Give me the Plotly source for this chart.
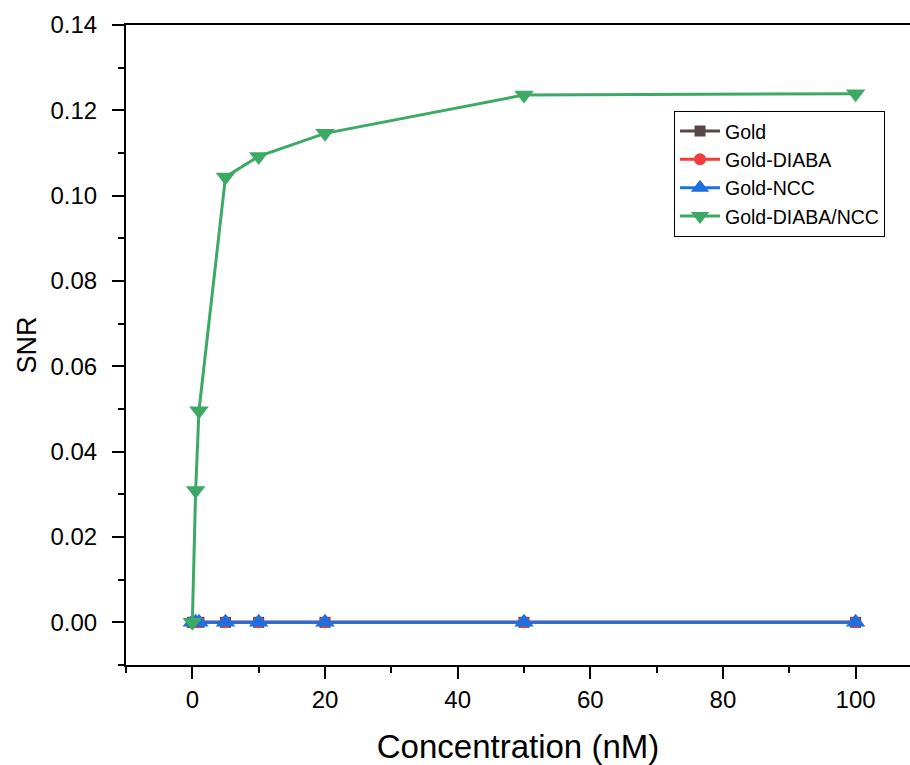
import plotly.graph_objects as go

conc = [0, 0.5, 1, 5, 10, 20, 50, 100]
snr_gold = [0, 0, 0, 0, 0, 0, 0, 0]
snr_diaba = [0, 0, 0, 0, 0, 0, 0, 0]
snr_ncc = [0, 0, 0, 0, 0, 0, 0, 0]
snr_diaba_ncc = [0, 0.0309, 0.0496, 0.1044, 0.1092, 0.1146, 0.1236, 0.1239]

series = [
    ("Gold", snr_gold, "#5a4646", "square", 11),
    ("Gold-DIABA", snr_diaba, "#f03c3c", "circle", 12),
    ("Gold-NCC", snr_ncc, "#1f6fe0", "triangle-up", 17),
    ("Gold-DIABA/NCC", snr_diaba_ncc, "#3caa64", "triangle-down", 17),
]

fig = go.Figure()
for name, vals, col, sym, sz in series:
    fig.add_trace(go.Scatter(
        x=conc, y=vals, name=name, mode="lines+markers",
        line=dict(color=col, width=3),
        marker=dict(symbol=sym, size=sz, color=col),
    ))

FONT = "Liberation Sans, Arial, sans-serif"
axis_font = dict(family=FONT, size=24, color="black")
fig.update_layout(
    width=910, height=765,
    margin=dict(l=126, r=0, t=25, b=100, autoexpand=False),
    paper_bgcolor="white", plot_bgcolor="white",
    font=dict(family=FONT, color="black"),
    showlegend=True,
    legend=dict(
        x=0.699, y=0.866, xanchor="left", yanchor="top",
        bordercolor="black", borderwidth=1, bgcolor="rgba(255,255,255,0)",
        font=dict(size=19.5, color="black"),
        tracegroupgap=0, itemwidth=40,
    ),
)
fig.update_xaxes(
    range=[-10, 108.2], tickmode="array", tickvals=[0, 20, 40, 60, 80, 100],
    ticktext=["0", "20", "40", "60", "80", "100"],
    showgrid=False, zeroline=False, showline=True, linecolor="black", linewidth=2,
    mirror=True, ticks="outside", ticklen=12, tickwidth=2, tickcolor="black",
    minor=dict(ticks="outside", ticklen=6, tickwidth=2, tickcolor="black", dtick=10, tick0=0, showgrid=False),
    tickfont=axis_font, automargin=False,
    title=dict(text="Concentration (nM)", font=dict(size=33, color="black"), standoff=26),
)
fig.update_yaxes(
    range=[-0.01, 0.14], tickmode="array",
    tickvals=[0, 0.02, 0.04, 0.06, 0.08, 0.10, 0.12, 0.14],
    ticktext=["0.00", "0.02", "0.04", "0.06", "0.08", "0.10", "0.12", "0.14"],
    showgrid=False, zeroline=False, showline=True, linecolor="black", linewidth=2,
    mirror=False, ticks="outside", ticklen=12, tickwidth=2, tickcolor="black",
    minor=dict(ticks="outside", ticklen=6, tickwidth=2, tickcolor="black", dtick=0.01, tick0=0, showgrid=False),
    tickfont=axis_font, automargin=False, ticklabelstandoff=10,
    title=dict(text="SNR", font=dict(size=27, color="black"), standoff=6),
)
fig.write_html(
    "out.html",
    config={"displayModeBar": False},
    post_script="document.body.style.margin='0';document.body.style.overflow='hidden';",
)
